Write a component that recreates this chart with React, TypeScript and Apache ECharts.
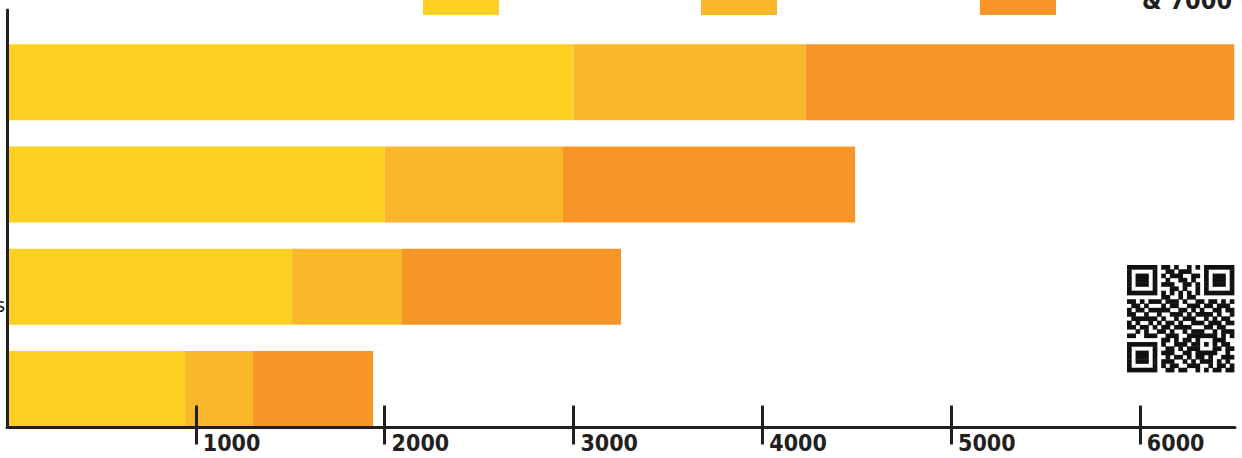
import React, { useEffect, useRef } from "react";
import * as echarts from "echarts";

// Categories, top to bottom
const categories = ["Group A", "Group B", "Group C", "Group D"];
const seriesNames = ["Tier 1", "Tier 2", "Tier 3"];
// Stacked segment values (per category, top to bottom)
const tier1 = [3000, 2000, 1510, 943];
const tier2 = [1230, 945, 582, 360];
const tier3 = [2270, 1547, 1160, 636];
const tickValues = [1000, 2000, 3000, 4000, 5000, 6000];
const axisMax = 6504;
const titleText = "& 7000 +";
const sideLabel = "s";

const colors = ["#FCD124", "#FBB72A", "#F79527"];
const ink = "#231F20";
const FONT = "'Liberation Sans Narrow', 'DejaVu Sans Condensed', 'Roboto', sans-serif";

// QR-style decoration matrix (25x25)
const qrRows = [
  "1111111" + "0" + "110100101" + "0" + "1111111",
  "1000001" + "0" + "011011100" + "0" + "1000001",
  "1011101" + "0" + "101110011" + "0" + "1011101",
  "1011101" + "0" + "010011010" + "0" + "1011101",
  "1011101" + "0" + "111001101" + "0" + "1011101",
  "1000001" + "0" + "001101001" + "0" + "1000001",
  "1111111" + "0" + "101010101" + "0" + "1111111",
  "0000000" + "0" + "110010110" + "0" + "0000000",
  "1101011" + "1" + "011101001" + "1" + "0110101",
  "0110100" + "0" + "101100111" + "0" + "1101110",
  "1011011" + "1" + "110011010" + "1" + "0011011",
  "1100100" + "1" + "001110101" + "1" + "1101001",
  "0111111" + "0" + "100101110" + "0" + "1010110",
  "1010010" + "1" + "011010011" + "1" + "0111011",
  "1101101" + "0" + "110111100" + "0" + "1101100",
  "0010100" + "1" + "101001011" + "1" + "0010111",
  "1100111" + "001110011" + "11111" + "0101",
  "0000000" + "0" + "11010110" + "10001" + "1100",
  "1111111" + "0" + "10011101" + "10101" + "0110",
  "1000001" + "0" + "01101011" + "10001" + "1011",
  "1011101" + "0" + "11100110" + "11111" + "0010",
  "1011101" + "0" + "01011010110100111",
  "1011101" + "0" + "11100101011101010",
  "1000001" + "0" + "10110011100101101",
  "1111111" + "0" + "01101100101011011",
];

function qrGraphic(x0: number, y0: number, m: number) {
  const children: any[] = [];
  qrRows.forEach((row, r) => {
    let c = 0;
    while (c < row.length) {
      if (row[c] === "1") {
        let e = c;
        while (e < row.length && row[e] === "1") e++;
        children.push({
          type: "rect",
          shape: { x: c * m, y: r * m, width: (e - c) * m + 0.4, height: m + 0.4 },
          style: { fill: "#111111" },
        });
        c = e;
      } else c++;
    }
  });
  return { type: "group", x: x0, y: y0, children };
}

export default function App() {
  const ref = useRef<HTMLDivElement>(null);
  useEffect(() => {
    if (!ref.current) return;
    const chart = echarts.init(ref.current, null, { renderer: "svg" });
    const data = [tier1, tier2, tier3];
    chart.setOption({
      animation: false,
      backgroundColor: "#ffffff",
      grid: [
        { left: 7, right: 7, top: 31, height: 409, containLabel: false },
        { left: 7, right: 7, top: 10, height: 417.5, containLabel: false },
      ],
      xAxis: [
        { gridIndex: 0, type: "value", min: 0, max: axisMax, show: false },
        {
          gridIndex: 1,
          type: "value",
          min: 0,
          max: axisMax,
          position: "bottom",
          z: 5,
          axisLine: { show: true, lineStyle: { color: ink, width: 3 } },
          axisTick: {
            show: true,
            customValues: tickValues,
            length: 17,
            lineStyle: { color: ink, width: 3 },
          },
          axisLabel: {
            show: true,
            customValues: tickValues,
            formatter: (v: number) => String(v),
            align: "left",
            verticalAlign: "top",
            padding: [0, 0, 0, 7],
            margin: 4,
            color: ink,
            fontFamily: FONT,
            fontWeight: "bold",
            fontSize: 23,
          },
          splitLine: { show: false },
        },
        {
          gridIndex: 1,
          type: "value",
          min: 0,
          max: axisMax,
          position: "bottom",
          offset: 0,
          z: 5,
          axisLine: { show: false },
          axisTick: {
            show: true,
            inside: true,
            customValues: tickValues,
            length: 22,
            lineStyle: { color: ink, width: 3 },
          },
          axisLabel: { show: false },
          splitLine: { show: false },
        },
      ],
      yAxis: [
        { gridIndex: 0, type: "category", data: categories, inverse: true, show: false },
        {
          gridIndex: 1,
          type: "value",
          min: 0,
          max: 1,
          z: 5,
          axisLine: { show: true, lineStyle: { color: ink, width: 3 } },
          axisTick: { show: false },
          axisLabel: { show: false },
          splitLine: { show: false },
        },
      ],
      series: seriesNames.map((name, i) => ({
        name,
        type: "bar",
        stack: "total",
        xAxisIndex: 0,
        yAxisIndex: 0,
        barWidth: 76,
        itemStyle: { color: colors[i] },
        data: data[i],
      })),
      graphic: [
        { type: "rect", shape: { x: 423, y: 0, width: 76, height: 15 }, style: { fill: colors[0] } },
        { type: "rect", shape: { x: 701, y: 0, width: 76, height: 15 }, style: { fill: colors[1] } },
        { type: "rect", shape: { x: 980, y: 0, width: 76, height: 15 }, style: { fill: colors[2] } },
        {
          type: "text",
          x: 1142,
          y: 13,
          style: {
            text: titleText,
            fill: ink,
            font: `bold 25px ${FONT}`,
            textAlign: "left",
            textVerticalAlign: "bottom",
          },
        },
        {
          type: "text",
          x: 5,
          y: 305,
          style: {
            text: sideLabel,
            fill: ink,
            font: `20px ${FONT}`,
            textAlign: "right",
            textVerticalAlign: "middle",
          },
        },
        qrGraphic(1127, 265, 4.28),
      ],
    });
    return () => chart.dispose();
  }, []);
  return (
    <div
      ref={ref}
      style={{ position: "fixed", left: 0, top: 0, width: 1242, height: 458 }}
    />
  );
}
